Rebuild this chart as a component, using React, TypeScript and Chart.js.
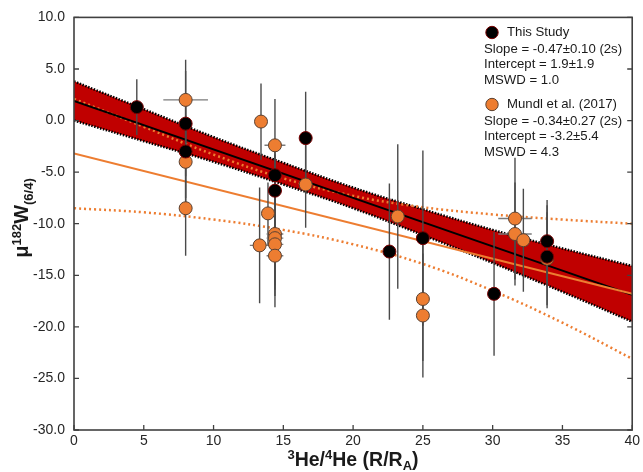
import React, { useEffect, useRef } from "react";
import { Chart, registerables } from "chart.js";
Chart.register(...registerables);

// ---------- data ----------
const thisStudyX = [4.5, 8.0, 8.0, 14.4, 14.4, 16.6, 22.6, 25.0, 30.1, 33.9, 33.9];
const thisStudyY = [1.3, -0.3, -3.0, -5.3, -6.8, -1.7, -12.7, -11.4, -16.8, -11.7, -13.2];
const thisStudyYErr = [2.7, 5.1, 4.5, 3.5, 3.5, 4.5, 6.6, 8.5, 6.0, 4.0, 5.0];
const thisStudyXErr = [0, 0, 0, 0.5, 0.5, 0, 0, 0, 0, 0, 0];

const mundlX = [8.0, 8.0, 8.0, 13.4, 14.4, 13.9, 13.3, 14.4, 14.4, 14.4, 14.4, 16.6, 23.2, 25.0, 25.0, 31.6, 31.6, 32.2, 33.9];
const mundlY = [2.0, -4.0, -8.5, -0.1, -2.4, -9.0, -12.1, -11.0, -11.4, -12.0, -13.1, -6.2, -9.3, -17.3, -18.9, -9.5, -11.0, -11.6, -13.4];
const mundlYErr = [3.9, 4.5, 4.6, 3.7, 4.5, 3.0, 5.6, 5.0, 5.0, 5.0, 5.0, 4.2, 7.0, 6.0, 6.0, 5.9, 5.0, 5.0, 4.5];
const mundlXErr = [1.6, 0, 0, 0, 0.75, 0, 0.7, 0.6, 0.6, 0.6, 0.6, 0, 0, 0, 0, 1.2, 1.2, 0, 0];

const fitX = [0, 40];
const thisStudyFit = [1.9, -16.9];
const mundlFit = [-3.2, -16.8];

const envX = [0, 5, 10, 15, 20, 25, 30, 35, 40];
const bandUpper = [3.8, 1.1, -1.6, -4.1, -6.5, -8.6, -10.6, -12.4, -14.1];
const bandLower = [0.0, -2.0, -4.0, -6.2, -8.5, -11.1, -13.8, -16.6, -19.5];
const mundlUpper = [2.1, -0.6, -3.3, -5.6, -7.3, -8.4, -9.1, -9.6, -10.0];
const mundlLower = [-8.5, -8.9, -9.6, -10.6, -12.0, -13.9, -16.5, -19.6, -23.1];

const xTickValues = [0, 5, 10, 15, 20, 25, 30, 35, 40];
const yTickValues = [10, 5, 0, -5, -10, -15, -20, -25, -30];

const legendThisStudy = ["This Study", "Slope = -0.47±0.10 (2s)", "Intercept = 1.9±1.9", "MSWD = 1.0"];
const legendMundl = ["Mundl et al. (2017)", "Slope = -0.34±0.27 (2s)", "Intercept = -3.2±5.4", "MSWD = 4.3"];

const FONT = "'Liberation Sans', Arial, sans-serif";
const ORANGE = "#ED7D31";
const RED = "#C00000";
const AXIS = "#404040";

const pts = (xs: number[], ys: number[]) => xs.map((x, i) => ({ x, y: ys[i] }));

function drawRich(ctx: CanvasRenderingContext2D, segs: { t: string; size: number; dy: number }[], cx: number, baseY: number) {
  let total = 0;
  for (const s of segs) {
    ctx.font = `bold ${s.size}px ${FONT}`;
    total += ctx.measureText(s.t).width;
  }
  let x = cx - total / 2;
  for (const s of segs) {
    ctx.font = `bold ${s.size}px ${FONT}`;
    ctx.fillText(s.t, x, baseY + s.dy);
    x += ctx.measureText(s.t).width;
  }
}

const customPlugin = {
  id: "custom",
  beforeDatasetDraw(chart: any, args: any) {
    if (args.index !== 1) return;
    const ctx = chart.ctx;
    const xs = chart.scales.x;
    const ys = chart.scales.y;
    ctx.save();
    const area = chart.chartArea;
    ctx.beginPath();
    ctx.rect(area.left, area.top, area.right - area.left, area.bottom - area.top);
    ctx.clip();
    const drawSet = (X: number[], Y: number[], YE: number[], XE: number[]) => {
      X.forEach((x, i) => {
        const px = xs.getPixelForValue(x);
        const py = ys.getPixelForValue(Y[i]);
        if (YE[i] > 0) {
          ctx.strokeStyle = "#4a4a4a";
          ctx.lineWidth = 1.4;
          ctx.beginPath();
          ctx.moveTo(px, ys.getPixelForValue(Y[i] + YE[i]));
          ctx.lineTo(px, ys.getPixelForValue(Y[i] - YE[i]));
          ctx.stroke();
        }
        if (XE[i] > 0) {
          ctx.strokeStyle = "#7a7a7a";
          ctx.lineWidth = 1.4;
          ctx.beginPath();
          ctx.moveTo(xs.getPixelForValue(x - XE[i]), py);
          ctx.lineTo(xs.getPixelForValue(x + XE[i]), py);
          ctx.stroke();
        }
      });
    };
    drawSet(mundlX, mundlY, mundlYErr, mundlXErr);
    drawSet(thisStudyX, thisStudyY, thisStudyYErr, thisStudyXErr);
    ctx.restore();
  },
  afterDraw(chart: any) {
    const ctx = chart.ctx;
    const { left, right, top, bottom } = chart.chartArea;
    const xs = chart.scales.x;
    const ys = chart.scales.y;
    ctx.save();
    // frame
    ctx.strokeStyle = AXIS;
    ctx.lineWidth = 1.6;
    ctx.strokeRect(left, top, right - left, bottom - top);
    // ticks
    ctx.lineWidth = 1.3;
    ctx.beginPath();
    yTickValues.forEach((v) => {
      const y = ys.getPixelForValue(v);
      ctx.moveTo(left, y);
      ctx.lineTo(left + 5, y);
      ctx.moveTo(right, y);
      ctx.lineTo(right - 5, y);
    });
    xTickValues.forEach((v) => {
      const x = xs.getPixelForValue(v);
      ctx.moveTo(x, bottom);
      ctx.lineTo(x, bottom - 5);
    });
    ctx.stroke();

    // axis titles
    ctx.fillStyle = "#1a1a1a";
    ctx.textBaseline = "alphabetic";
    ctx.textAlign = "left";
    drawRich(
      ctx,
      [
        { t: "3", size: 13, dy: -7 },
        { t: "He/", size: 19.5, dy: 0 },
        { t: "4", size: 13, dy: -7 },
        { t: "He (R/R", size: 19.5, dy: 0 },
        { t: "A", size: 13, dy: 4 },
        { t: ")", size: 19.5, dy: 0 },
      ],
      353,
      466
    );
    ctx.save();
    ctx.translate(28, 218);
    ctx.rotate(-Math.PI / 2);
    drawRich(
      ctx,
      [
        { t: "μ", size: 20, dy: 0 },
        { t: "182", size: 13, dy: -7.5 },
        { t: "W", size: 20, dy: 0 },
        { t: "(6/4)", size: 13, dy: 5 },
      ],
      0,
      0
    );
    ctx.restore();

    // legend
    const circle = (cx: number, cy: number, fill: string, stroke: string) => {
      ctx.beginPath();
      ctx.arc(cx, cy, 6.2, 0, Math.PI * 2);
      ctx.fillStyle = fill;
      ctx.fill();
      ctx.lineWidth = 1;
      ctx.strokeStyle = stroke;
      ctx.stroke();
    };
    circle(492, 32.5, "#000", "#7a0000");
    circle(492, 104.5, ORANGE, "#5a4030");
    ctx.fillStyle = "#1a1a1a";
    ctx.font = `13.2px ${FONT}`;
    ctx.textBaseline = "middle";
    ctx.textAlign = "left";
    ctx.fillText(legendThisStudy[0], 507, 32.5);
    legendThisStudy.slice(1).forEach((t, i) => ctx.fillText(t, 484, 49 + i * 15.5));
    ctx.fillText(legendMundl[0], 507, 104.5);
    legendMundl.slice(1).forEach((t, i) => ctx.fillText(t, 484, 121 + i * 15.5));
    ctx.restore();
  },
};

export default function App() {
  const ref = useRef<HTMLCanvasElement | null>(null);
  useEffect(() => {
    if (!ref.current) return;
    const lineCommon = { showLine: true, pointRadius: 0, pointHoverRadius: 0, fill: false };
    const chart = new Chart(ref.current, {
      type: "scatter",
      data: {
        datasets: [
          {
            label: "This Study",
            data: pts(thisStudyX, thisStudyY),
            backgroundColor: "#000",
            borderColor: "#7a0000",
            borderWidth: 1,
            pointRadius: 6.5,
          },
          {
            label: "Mundl et al. (2017)",
            data: pts(mundlX, mundlY),
            backgroundColor: ORANGE,
            borderColor: "#5a4030",
            borderWidth: 1,
            pointRadius: 6.5,
          },
          {
            ...lineCommon,
            label: "Mundl fit",
            data: pts(fitX, mundlFit),
            borderColor: ORANGE,
            borderWidth: 2,
          },
          {
            ...lineCommon,
            label: "This Study fit",
            data: pts(fitX, thisStudyFit),
            borderColor: "#000",
            borderWidth: 2,
          },
          {
            ...lineCommon,
            label: "Mundl upper",
            data: pts(envX, mundlUpper),
            borderColor: ORANGE,
            borderWidth: 2.5,
            borderDash: [2, 3],
            tension: 0.4,
          },
          {
            ...lineCommon,
            label: "Mundl lower",
            data: pts(envX, mundlLower),
            borderColor: ORANGE,
            borderWidth: 2.5,
            borderDash: [2, 3],
            tension: 0.4,
          },
          {
            ...lineCommon,
            label: "band lower",
            data: pts(envX, bandLower),
            borderColor: "#000",
            borderWidth: 2.5,
            borderDash: [1.5, 1.5],
            tension: 0.4,
          },
          {
            ...lineCommon,
            label: "band upper",
            data: pts(envX, bandUpper),
            borderColor: "#000",
            borderWidth: 2.5,
            borderDash: [1.5, 1.5],
            backgroundColor: RED,
            fill: "-1",
            tension: 0.4,
          },
        ],
      },
      options: {
        animation: false,
        responsive: true,
        maintainAspectRatio: false,
        layout: { padding: { top: 16, right: 9, left: 0, bottom: 0 } },
        plugins: { legend: { display: false }, tooltip: { enabled: false } },
        scales: {
          x: {
            type: "linear",
            min: 0,
            max: 40,
            grid: { display: false, drawTicks: false },
            border: { display: false },
            ticks: {
              stepSize: 5,
              padding: 3,
              color: "#262626",
              font: { family: FONT, size: 14 },
              maxRotation: 0,
            },
            afterFit: (s: any) => {
              s.height = 42;
            },
          },
          y: {
            type: "linear",
            min: -30,
            max: 10,
            grid: { display: false, drawTicks: false },
            border: { display: false },
            ticks: {
              stepSize: 5,
              padding: 9,
              color: "#262626",
              font: { family: FONT, size: 14 },
              callback: (v: any) => Number(v).toFixed(1),
            },
            afterFit: (s: any) => {
              s.width = 74;
            },
          },
        },
      },
      plugins: [customPlugin],
    } as any);
    return () => chart.destroy();
  }, []);
  return (
    <div style={{ position: "fixed", left: 0, top: 0, width: 643, height: 472, background: "#fff" }}>
      <canvas ref={ref} />
    </div>
  );
}
